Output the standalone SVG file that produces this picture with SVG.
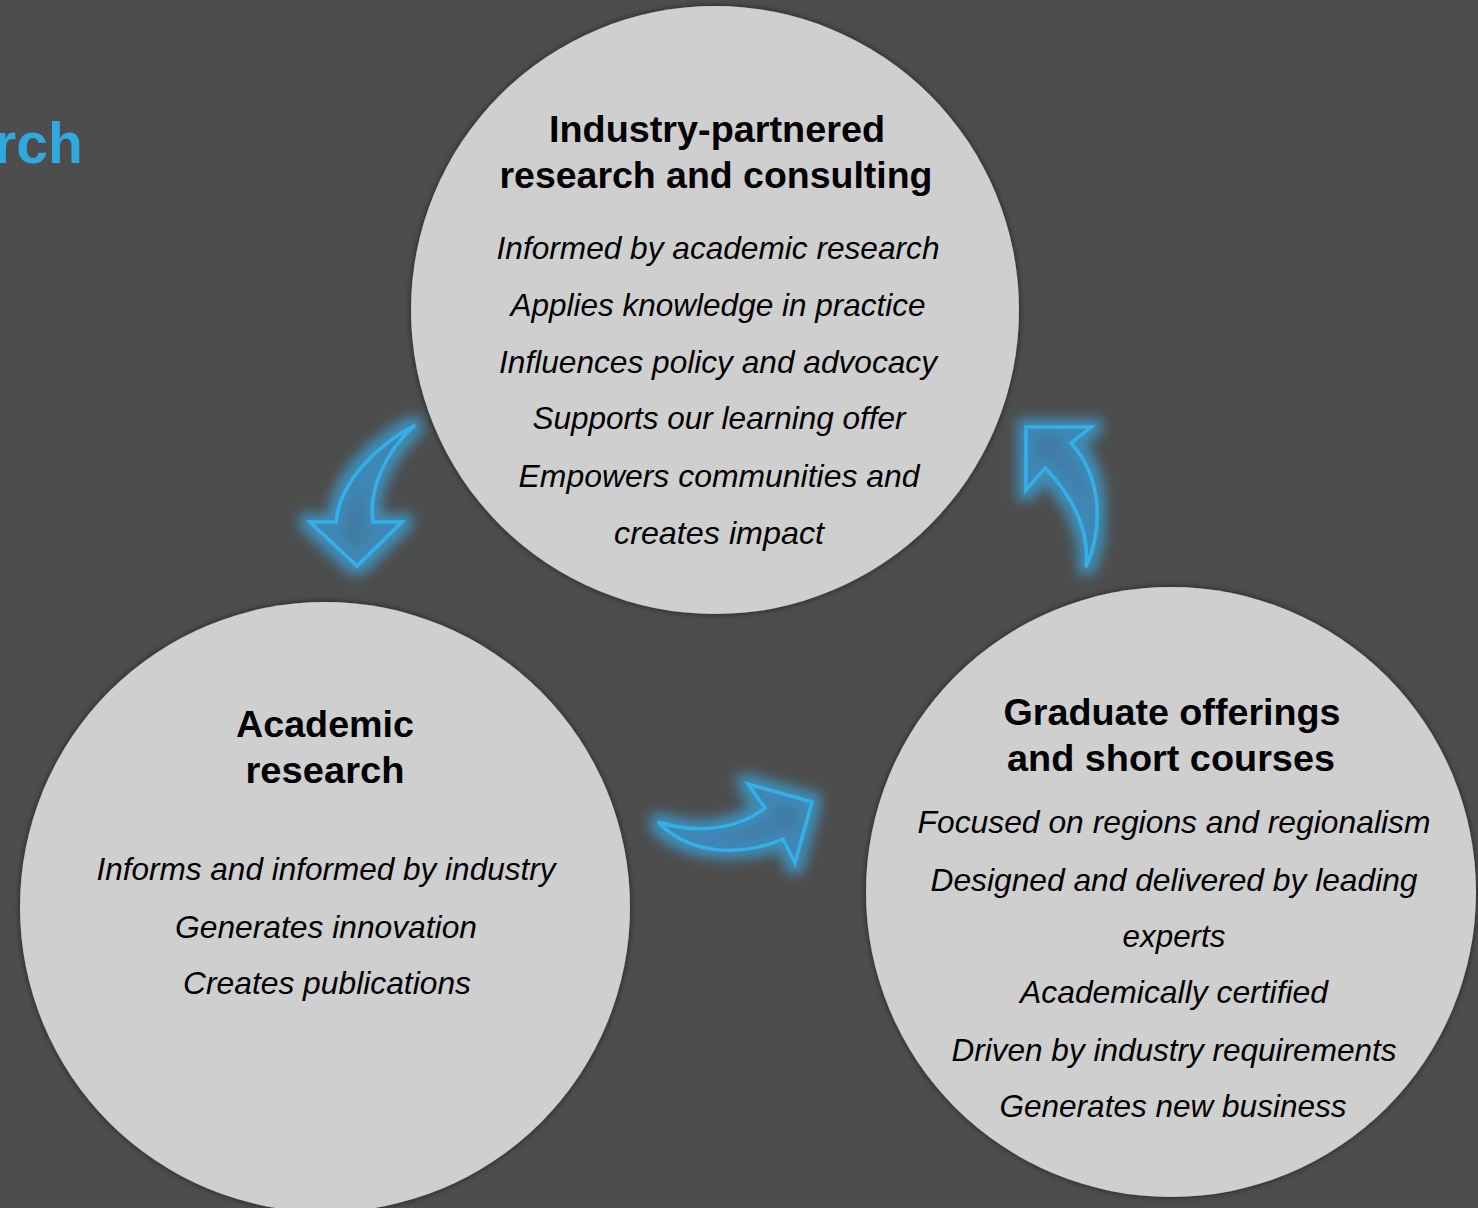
<svg xmlns="http://www.w3.org/2000/svg" width="1478" height="1208" viewBox="0 0 1478 1208">
<defs>
<style>
.bg{fill:#4d4d4d}
.circ{fill:#d0cfd0;filter:url(#shadow)}
.title{font-family:"Liberation Sans",Arial,sans-serif;font-weight:bold;font-size:37px;fill:#000;text-anchor:middle}
.item{font-family:"Liberation Sans",Arial,sans-serif;font-style:italic;font-size:30.5px;fill:#000;text-anchor:middle}
.head{font-family:"Liberation Sans",Arial,sans-serif;font-weight:bold;font-size:57px;fill:#2fa9df}
.arrow{fill:#3d84b8;fill-opacity:0.55;stroke:#35b0e6;stroke-width:3.5;stroke-linejoin:miter;filter:url(#glow)}
</style>
<filter id="shadow" x="-10%" y="-10%" width="120%" height="120%">
<feGaussianBlur in="SourceAlpha" stdDeviation="3"/>
<feOffset dx="0" dy="0" result="b"/>
<feFlood flood-color="#000" flood-opacity="0.6"/>
<feComposite in2="b" operator="in"/>
<feMerge><feMergeNode/><feMergeNode in="SourceGraphic"/></feMerge>
</filter>
<filter id="glow" x="-50%" y="-50%" width="200%" height="200%">
<feMorphology in="SourceAlpha" operator="dilate" radius="7" result="d"/>
<feGaussianBlur in="d" stdDeviation="6" result="g"/>
<feFlood flood-color="#3aa6e0" flood-opacity="0.7"/>
<feComposite in2="g" operator="in" result="gl"/>
<feMerge><feMergeNode in="gl"/><feMergeNode in="SourceGraphic"/></feMerge>
</filter>
</defs>
<rect class="bg" x="0" y="0" width="1478" height="1208"/>
<text class="head" x="-6" y="163">rch</text>

<g id="connectors">
<path id="arrow-top-to-left" class="arrow" d="M415,425 C375,447 340,482 336,522 L310,522 L357,566 L402,522 L373,522 C368,490 385,452 415,425 Z"/>
<path id="arrow-left-to-right" class="arrow" d="M658,822 C700,835 740,828 765,808 L748,784 L812,802 L795,863 L783,839 C740,857 690,855 658,822 Z"/>
<path id="arrow-right-to-top" class="arrow" d="M1086,567 C1102,530 1104,480 1071,443 L1091,427 L1026,427 L1026,490 L1045,468 C1072,495 1090,530 1086,567 Z"/>
</g>

<g id="node-industry">
<circle class="circ" cx="715" cy="310" r="304"/>
<text class="title" x="717" y="142" textLength="336" lengthAdjust="spacingAndGlyphs">Industry-partnered</text>
<text class="title" x="716" y="188" textLength="433" lengthAdjust="spacingAndGlyphs">research and consulting</text>
<text class="item" x="718" y="259" textLength="443" lengthAdjust="spacingAndGlyphs">Informed by academic research</text>
<text class="item" x="718" y="316" textLength="415" lengthAdjust="spacingAndGlyphs">Applies knowledge in practice</text>
<text class="item" x="718" y="373" textLength="438" lengthAdjust="spacingAndGlyphs">Influences policy and advocacy</text>
<text class="item" x="719" y="429" textLength="373" lengthAdjust="spacingAndGlyphs">Supports our learning offer</text>
<text class="item" x="719" y="487" textLength="401" lengthAdjust="spacingAndGlyphs">Empowers communities and</text>
<text class="item" x="719" y="544" textLength="210" lengthAdjust="spacingAndGlyphs">creates impact</text>
</g>

<g id="node-academic">
<circle class="circ" cx="325" cy="907" r="305"/>
<text class="title" x="325" y="737" textLength="178" lengthAdjust="spacingAndGlyphs">Academic</text>
<text class="title" x="325" y="783" textLength="159" lengthAdjust="spacingAndGlyphs">research</text>
<text class="item" x="326" y="880" textLength="459" lengthAdjust="spacingAndGlyphs">Informs and informed by industry</text>
<text class="item" x="326" y="938" textLength="302" lengthAdjust="spacingAndGlyphs">Generates innovation</text>
<text class="item" x="327" y="994" textLength="288" lengthAdjust="spacingAndGlyphs">Creates publications</text>
</g>

<g id="node-graduate">
<circle class="circ" cx="1171" cy="892" r="305"/>
<text class="title" x="1172" y="725" textLength="337" lengthAdjust="spacingAndGlyphs">Graduate offerings</text>
<text class="title" x="1171" y="771" textLength="328" lengthAdjust="spacingAndGlyphs">and short courses</text>
<text class="item" x="1174" y="833" textLength="513" lengthAdjust="spacingAndGlyphs">Focused on regions and regionalism</text>
<text class="item" x="1174" y="891" textLength="487" lengthAdjust="spacingAndGlyphs">Designed and delivered by leading</text>
<text class="item" x="1174" y="947" textLength="103" lengthAdjust="spacingAndGlyphs">experts</text>
<text class="item" x="1174" y="1003" textLength="308" lengthAdjust="spacingAndGlyphs">Academically certified</text>
<text class="item" x="1174" y="1061" textLength="445" lengthAdjust="spacingAndGlyphs">Driven by industry requirements</text>
<text class="item" x="1173" y="1117" textLength="347" lengthAdjust="spacingAndGlyphs">Generates new business</text>
</g>
</svg>
